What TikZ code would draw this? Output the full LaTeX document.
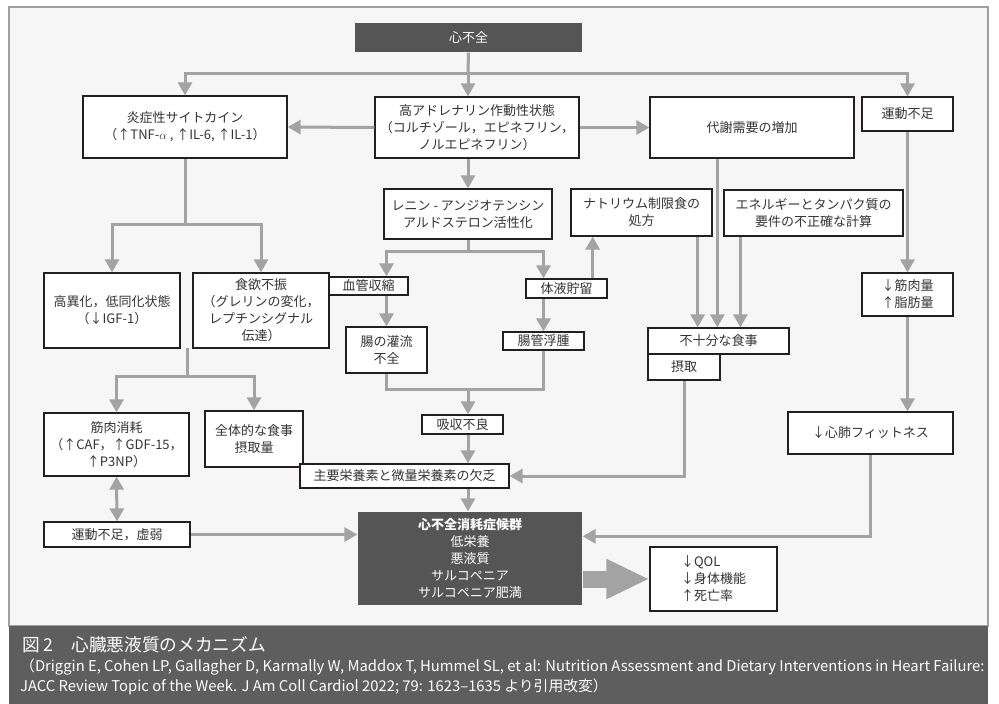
\documentclass[tikz,border=0pt]{standalone}
\usepackage{fontspec}
\setmainfont{Noto Sans CJK JP}
\usetikzlibrary{arrows.meta,calc}
\definecolor{cgray}{HTML}{A3A3A3}
\definecolor{dgray}{HTML}{555555}
\definecolor{bord}{HTML}{231F20}
\definecolor{bgc}{HTML}{F6F6F6}
\definecolor{capc}{HTML}{5E5E5E}
\definecolor{framec}{HTML}{A0A0A0}
\definecolor{txt}{HTML}{333333}
\newcommand{\mybox}[7][]{\node[box,#1,minimum width={(#5-#3)*1pt},minimum height={(#6-#4)*1pt}] (#2) at ({(#3+#5)/2},{(#4+#6)/2}) {#7};}
\begin{document}
\begin{tikzpicture}[x=1pt,y=-1pt,
 box/.style={draw=bord, line width=1.3pt, fill=white, align=center, inner sep=0pt, text=txt, font=\fontsize{13}{17}\selectfont},
 dark/.style={fill=dgray, draw=none, text=white},
 conn/.style={draw=cgray, line width=3pt},
 >={Triangle[length=13pt,width=14pt]}]
\useasboundingbox (0,0) rectangle (999,704);
\fill[white] (0,0) rectangle (999,704);
\filldraw[fill=bgc, draw=framec, line width=1.5pt] (9,7) rectangle (988,626);
\fill[capc] (9,626) rectangle (988,704);

% nodes
\mybox[dark]{hf}{355}{23}{582}{52}{心不全}
\mybox{inf}{83}{96}{287}{158}{炎症性サイトカイン\\（↑TNF-$\alpha$ , ↑IL-6, ↑IL-1）}
\mybox{adr}{375}{97}{579}{158}{高アドレナリン作動性状態\\（コルチゾール，エピネフリン，\\ノルエピネフリン）}
\mybox{met}{650}{97}{854}{158}{代謝需要の増加}
\mybox{ex1}{862}{97}{953}{131}{運動不足}
\mybox{ren}{384}{189}{552}{239}{レニン - アンジオテンシン\\アルドステロン活性化}
\mybox{na}{571}{189}{712}{236}{ナトリウム制限食の\\処方}
\mybox{en}{724}{190}{903}{236}{エネルギーとタンパク質の\\要件の不正確な計算}
\mybox{hc}{44}{273}{180}{348}{高異化，低同化状態\\（↓IGF-1）}
\mybox{ano}{193}{273}{329}{348}{食欲不振\\（グレリンの変化，\\レプチンシグナル\\伝達）}
\mybox{vc}{329}{277}{408}{295}{血管収縮}
\mybox{fr}{526}{279}{607}{298}{体液貯留}
\mybox{gi}{346}{327}{427}{373}{腸の灌流\\不全}
\mybox{ed}{503}{332}{584}{350}{腸管浮腫}
\mybox{ne}{648}{328}{789}{354}{不十分な食事}
\mybox{ik}{648}{354}{720}{380}{摂取}
\mybox{mu}{862}{273}{953}{316}{↓筋肉量\\↑脂肪量}
\mybox{ms}{44}{413}{189}{476}{筋肉消耗\\（↑CAF，↑GDF-15，\\↑P3NP）}
\mybox{tf}{205}{411}{303}{467}{全体的な食事\\摂取量}
\mybox{ab}{422}{415}{503}{434}{吸収不良}
\mybox{mm}{300}{464}{509}{488}{主要栄養素と微量栄養素の欠乏}
\mybox{cf}{788}{412}{953}{454}{↓心肺フィットネス}
\mybox{fr2}{44}{522}{190}{547}{運動不足，虚弱}
\mybox[dark]{syn}{358}{512}{582}{605}{\textbf{心不全消耗症候群}\\低栄養\\悪液質\\サルコペニア\\サルコペニア肥満}
\mybox[align=left]{ql}{650}{547}{777}{611}{↓QOL\\↓身体機能\\↑死亡率}

% connectors
\coordinate (j1) at (468,73);
\draw[conn] (hf.south) -- (j1);
\draw[conn,->] (j1) -- (j1 |- adr.north);
\draw[conn,->] (j1) -| (inf.north);
\draw[conn,->] (j1) -| (ex1.north);
\draw[conn,->] (adr.west) -- (inf.east);
\draw[conn,->] (adr.east) -- (met.west);
\draw[conn,->] (ren.north |- adr.south) -- (ren.north);

\coordinate (j2) at (185,224);
\draw[conn] (inf.south) -- (j2);
\draw[conn,->] (j2) -| (hc.north);
\draw[conn,->] (j2) -| (ano.north);

\coordinate (j3) at (468,251);
\draw[conn] (ren.south) -- (j3);
\draw[conn,->] (j3) -| (gi.north |- vc.north);
\draw[conn,->] (j3) -| (ed.north |- fr.north);
\draw[conn,->] (gi.north |- vc.south) -- (gi.north);
\draw[conn,->] (ed.north |- fr.south) -- (ed.north);
\coordinate (frt) at ($(fr.north east)+(-15,0)$);
\draw[conn,->] (frt) -- (frt |- na.south);

\coordinate (j4) at (468,389);
\draw[conn] (gi.south) |- (j4 -| ed.south) -- (ed.south);
\draw[conn,->] (j4) -- (j4 |- ab.north);
\draw[conn,->] (j4 |- ab.south) -- (j4 |- mm.north);
\draw[conn,->] (j4 |- mm.south) -- (j4 |- syn.north);

\coordinate (j5s) at (187,348);
\coordinate (j5) at (187,376);
\draw[conn] (j5s) -- (j5);
\draw[conn,->] (j5) -| (ms.north);
\draw[conn,->] (j5) -| (tf.north);
\draw[conn,<->] (ms.south) -- (fr2.north);
\draw[conn,->] (fr2.east) -- (fr2.east -| syn.west);

\coordinate (nab) at ($(na.south east)+(-15,0)$);
\coordinate (meb) at ($(met.south west)+(68,0)$);
\coordinate (enb) at ($(en.south west)+(17,0)$);
\draw[conn,->] (nab) -- (nab |- ne.north);
\draw[conn,->] (meb) -- (meb |- ne.north);
\draw[conn,->] (enb) -- (enb |- ne.north);
\draw[conn,->] (ik.south) |- (mm.east);
\draw[conn,->] (ex1.south) -- (mu.north);
\draw[conn,->] (mu.south) -- (mu.south |- cf.north);
\coordinate (sy1) at ($(syn.north east)+(0,25)$);
\draw[conn,->] (cf.south) |- (sy1);
\draw[draw=cgray, line width=17pt, -{Triangle[length=43pt,width=37pt]}] (syn.east |- ql.west) -- (ql.west);

% caption
\node[anchor=west, text=white, inner sep=0pt, font=\fontsize{17.7}{20}\selectfont] (cap1) at (22,645) {図 2　心臓悪液質のメカニズム};
\node[anchor=north west, text=white, align=left, inner sep=0pt, font=\fontsize{14.8}{20}\selectfont] (cap2) at (20,659) {（Driggin E, Cohen LP, Gallagher D, Karmally W, Maddox T, Hummel SL, et al: Nutrition Assessment and Dietary Interventions in Heart Failure:\\JACC Review Topic of the Week. J Am Coll Cardiol 2022; 79: 1623–1635 より引用改変）};
\end{tikzpicture}
\end{document}
